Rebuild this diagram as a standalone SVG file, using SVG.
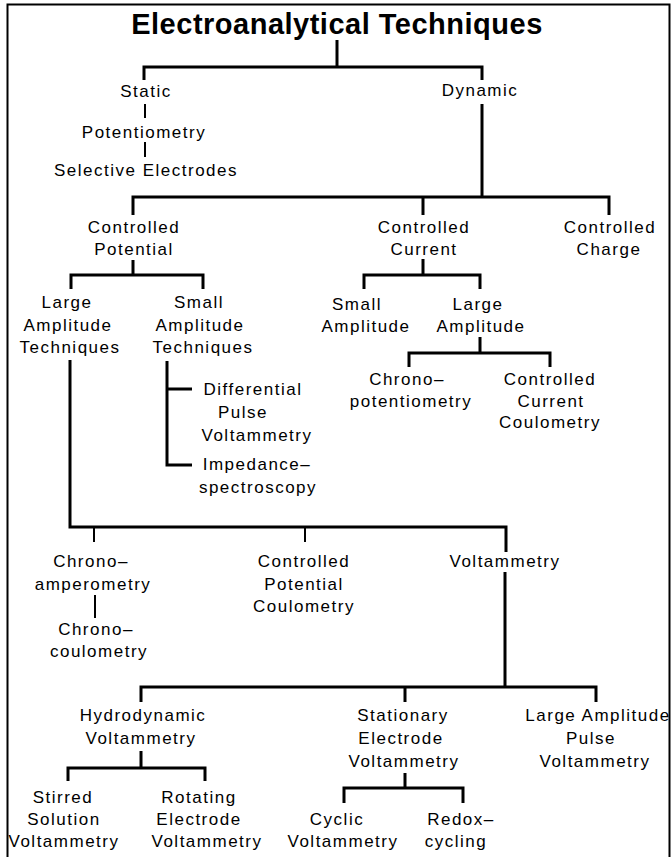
<svg xmlns="http://www.w3.org/2000/svg" width="672" height="857" viewBox="0 0 672 857">
<style>
.t{font-family:"Liberation Sans",Arial,sans-serif;font-size:17px;letter-spacing:1.5px;text-anchor:middle;fill:#000}
.title{font-family:"Liberation Sans",Arial,sans-serif;font-weight:bold;font-size:29px;letter-spacing:0.5px;text-anchor:middle;fill:#000}
.c{fill:none;stroke:#000;stroke-width:3;stroke-linejoin:miter}
.c2{stroke-width:2}
.b{fill:none;stroke:#000;stroke-width:2}
</style>
<rect width="672" height="857" fill="#fff"/>
<path class="b" d="M7.5,860 V4.5 H669.5 V860"/>
<g id="connectors">
<path class="c" d="M337,40 V67"/>
<path class="c" d="M144,80 V67 H482 V80"/>
<path class="c c2" d="M145,104 V118 M145,142 V157"/>
<path class="c" d="M482,104 V197"/>
<path class="c" d="M133,215 V197 H609 V215 M423,197 V215"/>
<path class="c" d="M133,260 V275 M71,289 V275 H203 V289"/>
<path class="c" d="M423,259 V275 M364,289 V275 H480 V289"/>
<path class="c" d="M480,337 V353 M409,367 V353 H550 V367"/>
<path class="c" d="M167,361 V465 H192 M167,389 H192"/>
<path class="c" d="M70,360 V527 H506 V552"/>
<path class="c c2" d="M94,527 V542 M305,527 V542"/>
<path class="c c2" d="M95,595 V618"/>
<path class="c" d="M505,572 V687 M141,702 V687 H596 V702 M405,687 V702"/>
<path class="c" d="M141,751 V768 M68,781 V768 H205 V781"/>
<path class="c" d="M405,773 V788 M344,803 V788 H463 V803"/>
</g>
<g id="title"><text class="title" x="337" y="34">Electroanalytical Techniques</text></g>
<g id="static"><text class="t" x="146" y="97">Static</text></g>
<g id="dynamic"><text class="t" x="480" y="96">Dynamic</text></g>
<g id="potentiometry"><text class="t" x="144" y="138">Potentiometry</text></g>
<g id="selective-electrodes"><text class="t" x="146" y="176">Selective Electrodes</text></g>
<g id="controlled-potential"><text class="t"><tspan x="134" y="233">Controlled</tspan><tspan x="134" y="255">Potential</tspan></text></g>
<g id="controlled-current"><text class="t"><tspan x="424" y="233">Controlled</tspan><tspan x="424" y="255">Current</tspan></text></g>
<g id="controlled-charge"><text class="t"><tspan x="610" y="233">Controlled</tspan><tspan x="609" y="255">Charge</tspan></text></g>
<g id="large-amplitude-techniques"><text class="t"><tspan x="67" y="308">Large</tspan><tspan x="68" y="331">Amplitude</tspan><tspan x="70" y="353">Techniques</tspan></text></g>
<g id="small-amplitude-techniques"><text class="t"><tspan x="199" y="308">Small</tspan><tspan x="200" y="331">Amplitude</tspan><tspan x="203" y="353">Techniques</tspan></text></g>
<g id="small-amplitude"><text class="t"><tspan x="357" y="310">Small</tspan><tspan x="366" y="332">Amplitude</tspan></text></g>
<g id="large-amplitude"><text class="t"><tspan x="478" y="310">Large</tspan><tspan x="481" y="332">Amplitude</tspan></text></g>
<g id="differential-pulse-voltammetry"><text class="t"><tspan x="253" y="395">Differential</tspan><tspan x="243" y="418">Pulse</tspan><tspan x="257" y="441">Voltammetry</tspan></text></g>
<g id="impedance-spectroscopy"><text class="t"><tspan x="257" y="470">Impedance–</tspan><tspan x="258" y="493">spectroscopy</tspan></text></g>
<g id="chronopotentiometry"><text class="t"><tspan x="407" y="385">Chrono–</tspan><tspan x="411" y="407">potentiometry</tspan></text></g>
<g id="controlled-current-coulometry"><text class="t"><tspan x="550" y="385">Controlled</tspan><tspan x="551" y="407">Current</tspan><tspan x="550" y="428">Coulometry</tspan></text></g>
<g id="chronoamperometry"><text class="t"><tspan x="91" y="567">Chrono–</tspan><tspan x="93" y="590">amperometry</tspan></text></g>
<g id="chronocoulometry"><text class="t"><tspan x="96" y="635">Chrono–</tspan><tspan x="99" y="657">coulometry</tspan></text></g>
<g id="controlled-potential-coulometry"><text class="t"><tspan x="304" y="567">Controlled</tspan><tspan x="304" y="590">Potential</tspan><tspan x="304" y="612">Coulometry</tspan></text></g>
<g id="voltammetry"><text class="t" x="505" y="567">Voltammetry</text></g>
<g id="hydrodynamic-voltammetry"><text class="t"><tspan x="143" y="721">Hydrodynamic</tspan><tspan x="141" y="744">Voltammetry</tspan></text></g>
<g id="stationary-electrode-voltammetry"><text class="t"><tspan x="403" y="721">Stationary</tspan><tspan x="401" y="744">Electrode</tspan><tspan x="404" y="767">Voltammetry</tspan></text></g>
<g id="large-amplitude-pulse-voltammetry"><text class="t"><tspan x="598" y="721">Large Amplitude</tspan><tspan x="591" y="744">Pulse</tspan><tspan x="595" y="767">Voltammetry</tspan></text></g>
<g id="stirred-solution-voltammetry"><text class="t"><tspan x="63" y="803">Stirred</tspan><tspan x="64" y="825">Solution</tspan><tspan x="64" y="847">Voltammetry</tspan></text></g>
<g id="rotating-electrode-voltammetry"><text class="t"><tspan x="199" y="803">Rotating</tspan><tspan x="199" y="825">Electrode</tspan><tspan x="207" y="847">Voltammetry</tspan></text></g>
<g id="cyclic-voltammetry"><text class="t"><tspan x="337" y="825">Cyclic</tspan><tspan x="343" y="847">Voltammetry</tspan></text></g>
<g id="redox-cycling"><text class="t"><tspan x="461" y="825">Redox–</tspan><tspan x="456" y="847">cycling</tspan></text></g>
</svg>
